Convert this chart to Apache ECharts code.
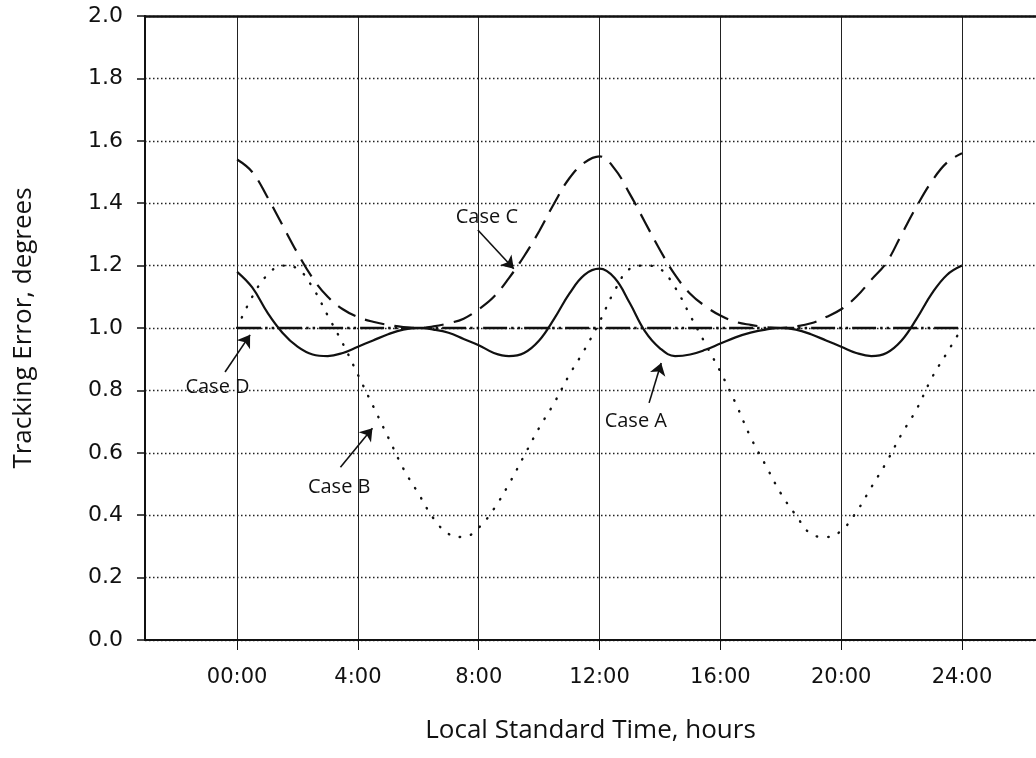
<!DOCTYPE html>
<html>
<head>
<meta charset="utf-8">
<title>Tracking Error vs Local Standard Time</title>
<script src="https://cdn.jsdelivr.net/npm/echarts@6/dist/echarts.min.js"></script>
<style>
  html, body { margin: 0; padding: 0; background: #fff; }
  #chart { width: 1036px; height: 758px; }
</style>
</head>
<body>
<div id="chart"></div>
<script>
// x ticks (hours)
const hourTicks = [0, 4, 8, 12, 16, 20, 24];

// Case A (solid), Case B (dotted), Case C (dashed): read at half-hour steps
const hours = [0, 0.5, 1, 1.5, 2, 2.5, 3, 3.5, 4, 4.5, 5, 5.5, 6, 6.5, 7, 7.5, 8, 8.5, 9, 9.5, 10, 10.5, 11, 11.5, 12,
  12.5, 13, 13.5, 14, 14.5, 15, 15.5, 16, 16.5, 17, 17.5, 18, 18.5, 19, 19.5, 20, 20.5, 21, 21.5, 22, 22.5, 23, 23.5, 24];
const caseA = [1.18, 1.13, 1.05, 0.985, 0.94, 0.915, 0.91, 0.92, 0.94, 0.96, 0.98, 0.995, 1.0, 0.995, 0.985, 0.965, 0.945, 0.92, 0.91, 0.92, 0.96, 1.03, 1.11, 1.17, 1.19,
  1.16, 1.08, 0.99, 0.935, 0.91, 0.915, 0.93, 0.95, 0.97, 0.985, 0.995, 1.0, 0.995, 0.98, 0.96, 0.94, 0.92, 0.91, 0.92, 0.96, 1.03, 1.11, 1.17, 1.20];
const caseB = [1.0, 1.10, 1.17, 1.20, 1.19, 1.13, 1.04, 0.95, 0.85, 0.75, 0.65, 0.55, 0.47, 0.39, 0.34, 0.33, 0.36, 0.42, 0.50, 0.59, 0.68, 0.76, 0.85, 0.93, 1.02,
  1.12, 1.19, 1.20, 1.19, 1.13, 1.04, 0.95, 0.86, 0.76, 0.65, 0.56, 0.47, 0.40, 0.34, 0.33, 0.35, 0.41, 0.49, 0.57, 0.66, 0.74, 0.84, 0.92, 1.0];
const caseC = [1.54, 1.50, 1.42, 1.33, 1.24, 1.16, 1.10, 1.06, 1.035, 1.02, 1.01, 1.003, 1.0, 1.005, 1.015, 1.03, 1.06, 1.10, 1.16, 1.23, 1.31, 1.40, 1.48, 1.53, 1.55,
  1.51, 1.43, 1.34, 1.25, 1.17, 1.11, 1.07, 1.04, 1.02, 1.01, 1.003, 1.0, 1.005, 1.015, 1.035, 1.06, 1.10, 1.155, 1.21, 1.30, 1.39, 1.47, 1.53, 1.56];

// Case D (dash-dot), constant
const hoursD = [0, 24];
const caseD = [1.0, 1.0];

// annotations: label position, arrow start, arrow tip (hours, degrees)
const noteNames = ['Case A', 'Case B', 'Case C', 'Case D'];
const notePos = [[13.2, 0.70], [3.38, 0.49], [8.27, 1.355], [-0.65, 0.81]];
const arrowFrom = [[13.64, 0.76], [3.42, 0.554], [7.97, 1.314], [-0.4, 0.859]];
const arrowTo = [[14.04, 0.888], [4.48, 0.679], [9.16, 1.19], [0.43, 0.978]];

const pairs = (xs, ys) => xs.map((x, i) => [x, ys[i]]);

const chart = echarts.init(document.getElementById('chart'), null, { renderer: 'canvas' });

const ink = '#111';
const xMin = -3.05, xMax = 26.45;

const option = {
  animation: false,
  backgroundColor: '#fff',
  grid: { left: 145, right: 0, top: 16, bottom: 118, containLabel: false },
  xAxis: [
    {
      type: 'value',
      min: xMin,
      max: xMax,
      name: 'Local Standard Time, hours',
      nameLocation: 'middle',
      nameGap: 78,
      nameTextStyle: { fontFamily: 'Open Sans', fontSize: 26, color: ink },
      axisLine: { show: true, onZero: false, lineStyle: { color: ink, width: 2 } },
      axisTick: { show: true, length: 10, customValues: hourTicks, lineStyle: { color: ink, width: 1 } },
      axisLabel: {
        customValues: hourTicks,
        margin: 27,
        fontFamily: 'DejaVu Sans',
        fontSize: 21,
        color: ink,
        formatter: v => (v === 0 ? '00' : String(v)) + ':00'
      },
      splitLine: { show: true, lineStyle: { color: '#222', width: 1 } }
    },
    {
      type: 'value',
      position: 'top',
      min: xMin,
      max: xMax,
      axisLine: { show: true, onZero: false, lineStyle: { color: ink, width: 2.5 } },
      axisTick: { show: false },
      axisLabel: { show: false },
      splitLine: { show: false }
    }
  ],
  yAxis: {
    type: 'value',
    min: 0,
    max: 2,
    interval: 0.2,
    name: 'Tracking Error, degrees',
    nameLocation: 'middle',
    nameGap: 108,
    nameTextStyle: { fontFamily: 'Open Sans', fontSize: 26, color: ink },
    axisLine: { show: true, onZero: false, lineStyle: { color: ink, width: 2 } },
    axisTick: { show: true, length: 8, lineStyle: { color: ink, width: 1.5 } },
    axisLabel: {
      margin: 22,
      fontFamily: 'DejaVu Sans',
      fontSize: 22,
      color: ink,
      formatter: v => v.toFixed(1)
    },
    splitLine: { show: true, lineStyle: { color: '#222', width: 1.4, type: [1.5, 2.5] } }
  },
  series: [
    {
      name: 'Case A',
      type: 'line',
      data: pairs(hours, caseA),
      smooth: 0.4,
      showSymbol: false,
      lineStyle: { color: ink, width: 2.2 },
      itemStyle: { color: ink },
      z: 5,
      markLine: {
        silent: true,
        symbol: ['none', 'arrow'],
        symbolSize: 12,
        label: { show: false },
        itemStyle: { color: ink },
        lineStyle: { color: ink, width: 1.6, type: 'solid' },
        data: arrowFrom.map((p, i) => [{ coord: p }, { coord: arrowTo[i] }])
      },
      markPoint: {
        silent: true,
        symbol: 'circle',
        symbolSize: 0,
        label: {
          show: true,
          position: 'inside',
          fontFamily: 'Open Sans',
          fontSize: 20,
          color: ink,
          formatter: p => p.name
        },
        data: noteNames.map((n, i) => ({ name: n, coord: notePos[i] }))
      }
    },
    {
      name: 'Case B',
      type: 'line',
      data: pairs(hours, caseB),
      smooth: 0.4,
      showSymbol: false,
      lineStyle: { color: ink, width: 2.4, type: [0.5, 11], cap: 'round' },
      z: 4
    },
    {
      name: 'Case C',
      type: 'line',
      data: pairs(hours, caseC),
      smooth: 0.4,
      showSymbol: false,
      lineStyle: { color: ink, width: 2.2, type: [20, 10] },
      z: 4
    },
    {
      name: 'Case D',
      type: 'line',
      data: pairs(hoursD, caseD),
      showSymbol: false,
      lineStyle: { color: ink, width: 2.6, type: [24, 4, 2.5, 4, 2.5, 4] },
      z: 3
    }
  ]
};

chart.setOption(option);
window.addEventListener('resize', () => chart.resize());
</script>
</body>
</html>
